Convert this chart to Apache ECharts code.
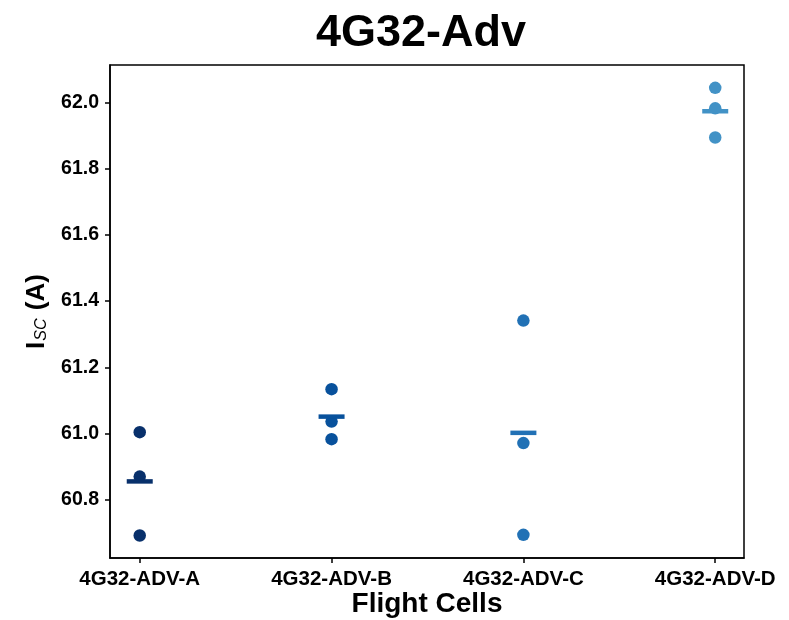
<!DOCTYPE html>
<html>
<head>
<meta charset="utf-8">
<script src="https://cdn.jsdelivr.net/npm/echarts@6/dist/echarts.min.js"></script>
<style>
  html, body { margin: 0; padding: 0; background: #fff; }
  #chart { width: 789px; height: 620px; }
</style>
</head>
<body>
<div id="chart"></div>
<script>
// Flight cells and their measured short-circuit currents (A)
const cells = ['4G32-ADV-A', '4G32-ADV-B', '4G32-ADV-C', '4G32-ADV-D'];
const iscA = [61.004, 60.870, 60.692];
const iscB = [61.134, 61.036, 60.983];
const iscC = [61.341, 60.971, 60.694];
const iscD = [62.044, 61.982, 61.894];
const cellColors = ['#08306b', '#08519c', '#2171b5', '#4292c6'];
const yTicks = [60.8, 61.0, 61.2, 61.4, 61.6, 61.8, 62.0];

const groups = [iscA, iscB, iscC, iscD];
const FONT = '"Liberation Sans", Arial, Helvetica, sans-serif';

const pointSeries = groups.map((vals, i) => ({
  type: 'scatter',
  name: cells[i],
  symbol: 'circle',
  symbolSize: 12.5,
  itemStyle: { color: cellColors[i], opacity: 1 },
  data: vals.map(v => [i, v]),
  z: 3
}));

// Mean of each cell drawn as a short horizontal bar
const meanSeries = {
  type: 'scatter',
  symbol: 'rect',
  symbolSize: [26, 4.5],
  itemStyle: { opacity: 1 },
  data: groups.map((vals, i) => ({
    value: [i, vals.reduce((a, b) => a + b, 0) / vals.length],
    itemStyle: { color: cellColors[i], opacity: 1 }
  })),
  z: 4
};

const chart = echarts.init(document.getElementById('chart'), null, { renderer: 'canvas' });
chart.setOption({
  animation: false,
  backgroundColor: '#fff',
  title: {
    text: '4G32-Adv',
    left: 416,
    top: 6,
    textAlign: 'center',
    textStyle: { fontFamily: FONT, fontWeight: 'bold', fontSize: 45, color: '#000' }
  },
  grid: {
    left: 110, right: 45, top: 65, bottom: 62,
    outerBoundsMode: 'none',
    containLabel: false,
    show: true, borderColor: '#000', borderWidth: 1.5, backgroundColor: '#fff'
  },
  xAxis: {
    type: 'value',
    min: -0.155,
    max: 3.15,
    name: 'Flight Cells',
    nameLocation: 'middle',
    nameGap: 32,
    nameMoveOverlap: false,
    nameTextStyle: { fontFamily: FONT, fontWeight: 'bold', fontSize: 28, color: '#000' },
    splitLine: { show: false },
    axisLine: { show: true, onZero: false, lineStyle: { color: '#000', width: 1.5 } },
    axisTick: { show: true, length: 5, customValues: [0, 1, 2, 3], lineStyle: { color: '#000', width: 1.5 } },
    axisLabel: {
      customValues: [0, 1, 2, 3],
      formatter: v => cells[Math.round(v)],
      margin: 11,
      fontFamily: FONT, fontWeight: 'bold', fontSize: 20.5, color: '#000'
    }
  },
  yAxis: {
    type: 'value',
    min: 60.624,
    max: 62.113,
    name: '{b|I}{s|SC}{b| (A)}',
    nameLocation: 'middle',
    nameGap: 60,
    nameMoveOverlap: false,
    nameRotate: 90,
    nameTextStyle: {
      color: '#000',
      rich: {
        b: { fontFamily: FONT, fontWeight: 'bold', fontSize: 26, color: '#000' },
        s: { fontFamily: FONT, fontStyle: 'italic', fontSize: 16, color: '#000', verticalAlign: 'bottom', padding: [10, 1, 0, 1] }
      }
    },
    splitLine: { show: false },
    axisLine: { show: true, onZero: false, lineStyle: { color: '#000', width: 1.5 } },
    axisTick: { show: true, length: 5, customValues: yTicks, lineStyle: { color: '#000', width: 1.5 } },
    axisLabel: {
      customValues: yTicks,
      formatter: v => v.toFixed(1),
      margin: 11,
      fontFamily: FONT, fontWeight: 'bold', fontSize: 19.5, color: '#000'
    }
  },
  series: [...pointSeries, meanSeries]
});
</script>
</body>
</html>
